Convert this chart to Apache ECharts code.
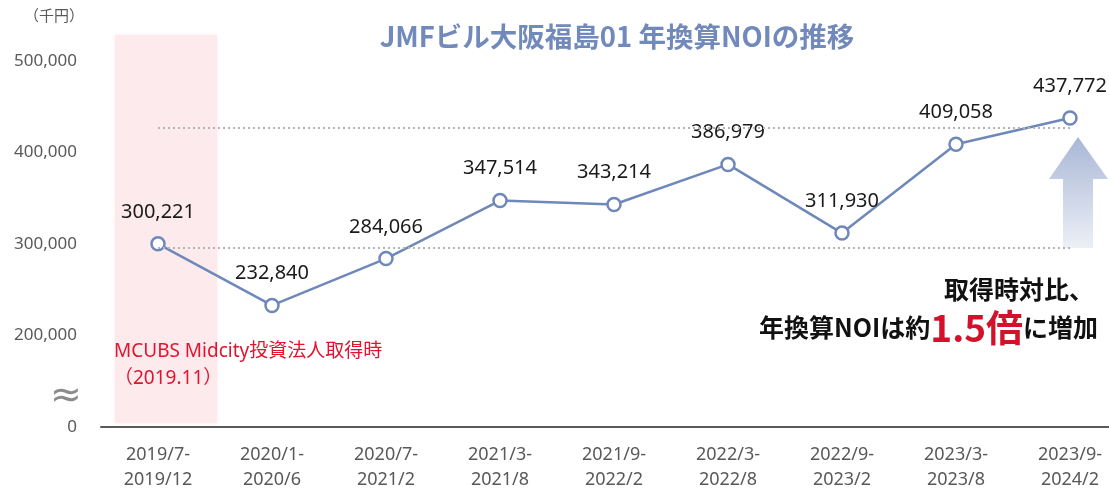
<!DOCTYPE html>
<html>
<head>
<meta charset="utf-8">
<script src="https://cdn.jsdelivr.net/npm/echarts@6/dist/echarts.min.js"></script>
<style>
  html, body { margin: 0; padding: 0; background: #fff; overflow: hidden; }
  #chart { width: 1109px; height: 488px; }
</style>
</head>
<body>
<div id="chart"></div>
<script>
// 期間ラベル（2行）
const periods = [
  '2019/7-\n2019/12', '2020/1-\n2020/6', '2020/7-\n2021/2', '2021/3-\n2021/8',
  '2021/9-\n2022/2', '2022/3-\n2022/8', '2022/9-\n2023/2', '2023/3-\n2023/8', '2023/9-\n2024/2'
];
// 年換算NOI（千円）
const noi = [300221, 232840, 284066, 347514, 343214, 386979, 311930, 409058, 437772];
// 比較用の点線レベル
const refLevels = [296000, 427000];
// 軸の下端（0 と表示、省略線あり）
const axisBase = 100000;

const FONT = '"Noto Sans", "Noto Sans CJK JP", sans-serif';
const JP = '"Noto Sans CJK JP", sans-serif';
const LINE_COLOR = '#6f88ba';

const chart = echarts.init(document.getElementById('chart'));

const options = {
  animation: false,
  textStyle: { fontFamily: FONT },
  title: {
    text: 'JMFビル大阪福島01 年換算NOIの推移',
    left: 612,
    textAlign: 'center',
    top: 18,
    textStyle: { fontSize: 27.5, fontWeight: 'bold', color: '#7189bb', fontFamily: JP },
  },
  grid: { left: 101, top: 61, width: 1026, height: 366, outerBoundsMode: 'none', containLabel: false },
  xAxis: {
    type: 'category',
    data: periods,
    axisLine: { lineStyle: { color: '#5a5a5a', width: 2 } },
    axisTick: { show: false },
    axisLabel: { color: '#595959', fontSize: 18, lineHeight: 25, margin: 15, interval: 0 },
  },
  yAxis: {
    type: 'value',
    min: axisBase,
    max: 500000,
    interval: 100000,
    axisLine: { show: false },
    axisTick: { show: false },
    splitLine: { show: false },
    axisLabel: {
      color: '#595959',
      fontSize: 17,
      margin: 24,
      formatter: (v) => (v === axisBase ? '0' : v.toLocaleString('en-US')),
    },
  },
  graphic: [
    // 取得時の網掛け
    { type: 'rect', z: -1, shape: { x: 115, y: 35, width: 102, height: 388 },
      style: { fill: '#fdeaed', shadowBlur: 4, shadowColor: '#fdeaed' } },
    { type: 'text', left: 24, top: 8,
      style: { text: '（千円）', fontSize: 15, fill: '#595959', fontFamily: JP } },
    { type: 'text', left: 50, top: 378,
      style: { text: '≈', fontSize: 38, fill: '#8c8c8c', fontFamily: '"DejaVu Sans", sans-serif' } },
    { type: 'text', left: 114, top: 338,
      style: { text: 'MCUBS Midcity投資法人取得時\n（2019.11）', fontSize: 19, lineHeight: 27,
        fill: '#e0142f', fontFamily: FONT } },
    // 増加の矢印
    { type: 'polygon', z: 1,
      shape: { points: [[1078, 137], [1108, 179], [1093, 179], [1093, 248], [1063, 248], [1063, 179], [1049, 179]] },
      style: { fill: new echarts.graphic.LinearGradient(0, 0, 0, 1, [
        { offset: 0, color: '#a9b8d6' }, { offset: 1, color: '#eceff6' }]) } },
    { type: 'text', right: 15, top: 277,
      style: { text: '取得時対比、', fontSize: 25, fontWeight: 'bold', fill: '#111', fontFamily: JP } },
    { type: 'text', right: 11, top: 309,
      style: {
        text: '{a|年換算NOIは約}{b|1.5倍}{a|に増加}',
        rich: {
          a: { fontSize: 25, fontWeight: 'bold', fill: '#111', fontFamily: JP },
          b: { fontSize: 37, fontWeight: 'bold', fill: '#d4112b', fontFamily: JP },
        },
      } },
  ],
  series: [
    {
      type: 'line',
      data: noi,
      symbol: 'circle',
      symbolSize: 13,
      lineStyle: { color: LINE_COLOR, width: 2.5 },
      itemStyle: { color: '#fff', borderColor: LINE_COLOR, borderWidth: 2.5 },
      label: {
        show: true,
        position: 'top',
        distance: 14,
        color: '#1a1a1a',
        fontSize: 20,
        formatter: (p) => p.value.toLocaleString('en-US'),
      },
      markLine: {
        silent: true,
        symbol: 'none',
        label: { show: false },
        lineStyle: { color: '#b3b3b3', type: [2, 3], width: 2 },
        data: refLevels.map((v) => [
          { coord: [0, v] },
          { coord: [periods.length - 1, v] },
        ]),
      },
    },
  ],
};

chart.setOption(options);
</script>
</body>
</html>
